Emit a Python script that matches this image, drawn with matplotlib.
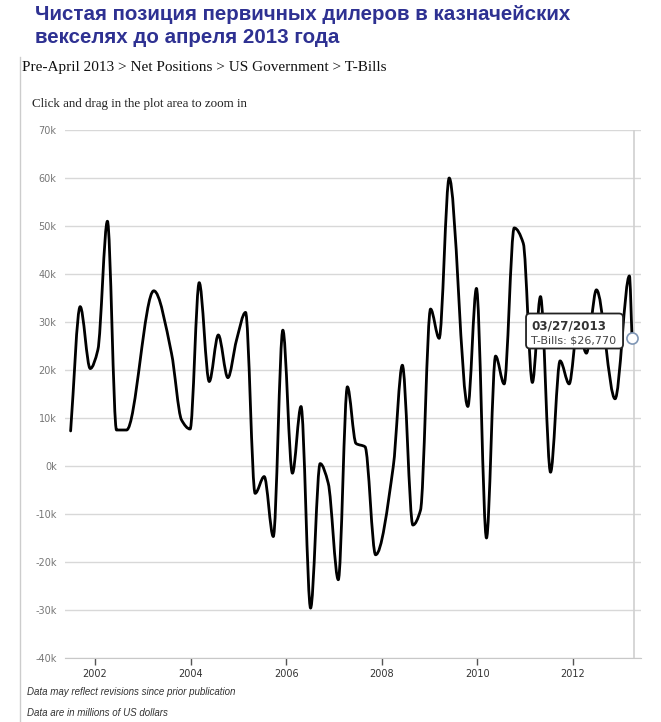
import matplotlib
matplotlib.use("Agg")
import matplotlib.pyplot as plt
import numpy as np
from matplotlib.path import Path
from matplotlib.patches import PathPatch, FancyBboxPatch
from matplotlib.transforms import IdentityTransform

# readings: decimal year, net position in $ thousands of millions (k)
years = [2001.49, 2001.69, 2001.90, 2002.06, 2002.26, 2002.45, 2002.66, 2003.23,
         2003.60, 2003.81, 2003.99, 2004.18, 2004.39, 2004.58, 2004.78, 2004.96,
         2005.15, 2005.35, 2005.54, 2005.73, 2005.93, 2006.13, 2006.31, 2006.51,
         2006.71, 2006.88, 2007.09, 2007.28, 2007.46, 2007.65, 2007.87, 2008.24,
         2008.43, 2008.65, 2008.81, 2009.02, 2009.20, 2009.41, 2009.80, 2009.98,
         2010.19, 2010.38, 2010.56, 2010.77, 2010.96, 2011.15, 2011.32, 2011.53,
         2011.73, 2011.92, 2012.10, 2012.28, 2012.49, 2012.88, 2013.18, 2013.235]
values = [7.3, 33.2, 20.3, 24.2, 51.0, 7.5, 7.5, 36.5,
          23.5, 9.6, 7.7, 38.2, 17.6, 27.3, 18.4, 26.2,
          32.0, -5.7, -2.2, -14.7, 28.3, -1.5, 12.4, -29.6,
          0.5, -3.6, -23.7, 16.5, 4.7, 4.0, -18.5, -0.1,
          21.0, -12.3, -9.2, 32.7, 26.6, 60.0, 12.4, 37.0,
          -15.0, 22.9, 17.1, 49.6, 46.4, 17.4, 35.3, -1.3,
          21.9, 17.1, 29.0, 23.5, 36.7, 14.0, 39.6, 26.77]

y_ticks = [-40, -30, -20, -10, 0, 10, 20, 30, 40, 50, 60, 70]
y_labels = ['-40k', '-30k', '-20k', '-10k', '0k', '10k', '20k', '30k', '40k', '50k', '60k', '70k']
x_ticks = [2002, 2004, 2006, 2008, 2010, 2012]
x_labels = ['2002', '2004', '2006', '2008', '2010', '2012']

title = 'Чистая позиция первичных дилеров в казначейских\nвекселях до апреля 2013 года'
crumb = 'Pre-April 2013 > Net Positions > US Government > T-Bills'
hint = 'Click and drag in the plot area to zoom in'
note1 = 'Data may reflect revisions since prior publication'
note2 = 'Data are in millions of US dollars'
tip_date = '03/27/2013'
tip_value = 'T-Bills: $26,770'

W, H = 661, 722


def fx(px):
    return px / W


def fy(py):
    return 1 - py / H


def smooth_path(x, y):
    # monotone cubic bezier through the points (looks like the web chart's spline)
    x = np.asarray(x, float)
    y = np.asarray(y, float)
    h = np.diff(x)
    d = np.diff(y) / h
    m = np.zeros_like(y)
    m[0], m[-1] = d[0], d[-1]
    for i in range(1, len(y) - 1):
        if d[i - 1] * d[i] > 0:
            w1 = 2 * h[i] + h[i - 1]
            w2 = h[i] + 2 * h[i - 1]
            m[i] = (w1 + w2) / (w1 / d[i - 1] + w2 / d[i])
    verts = [(x[0], y[0])]
    codes = [Path.MOVETO]
    for i in range(len(h)):
        verts += [(x[i] + h[i] / 3, y[i] + m[i] * h[i] / 3),
                  (x[i + 1] - h[i] / 3, y[i + 1] - m[i + 1] * h[i] / 3),
                  (x[i + 1], y[i + 1])]
        codes += [Path.CURVE4] * 3
    return Path(verts, codes)


fig = plt.figure(figsize=(W / 100, H / 100), dpi=100)
fig.patch.set_facecolor('white')

# header texts
fig.text(fx(35), fy(26), title, fontsize=14.8, fontweight='bold', color='#2e3192',
         family='Liberation Sans', va='center', ha='left', linespacing=1.25)
fig.text(fx(22), fy(67), crumb, fontsize=11, color='#111111', family='Liberation Serif',
         va='center', ha='left')
fig.text(fx(32), fy(104), hint, fontsize=9.4, color='#222222', family='Liberation Serif',
         va='center', ha='left')
fig.text(fx(27), fy(692), note1, fontsize=7, color='#333333', style='italic',
         family='Liberation Sans', va='center', ha='left')
fig.text(fx(27), fy(713), note2, fontsize=7, color='#333333', style='italic',
         family='Liberation Sans', va='center', ha='left')

# thin panel border on the left
fig.add_artist(plt.Line2D([fx(20), fx(20)], [fy(57), 0], color='#cccccc', lw=1))

left, right, top, bottom = 65, 641, 130, 658
ax = fig.add_axes([fx(left), fy(bottom), fx(right) - fx(left), fy(top) - fy(bottom)])
ax.set_xlim(2002 + (left - 95) / 47.8, 2002 + (right - 95) / 47.8)
ax.set_ylim(-40, 70)

ax.set_yticks(y_ticks)
ax.set_yticklabels(y_labels)
ax.set_xticks(x_ticks)
ax.set_xticklabels(x_labels)
ax.yaxis.grid(True, color='#d8d8d8', lw=1)
ax.set_axisbelow(True)
for s in ['top', 'right', 'left']:
    ax.spines[s].set_visible(False)
ax.spines['bottom'].set_color('#c8c8c8')
ax.tick_params(axis='y', length=0, pad=6, labelsize=7, labelcolor='#777777')
ax.tick_params(axis='x', length=5, width=1, color='#555555', pad=3, labelsize=7,
               labelcolor='#333333')

ax.add_patch(PathPatch(smooth_path(years, values), fill=False, ec='black', lw=2.0,
                       capstyle='round', joinstyle='round', zorder=3))

# crosshair + hover marker on the last point
ax.axvline(years[-1] + 0.04, color='#d0d0d0', lw=1.2, zorder=2)
ax.plot(years[-1], values[-1], 'o', ms=8, mfc='white', mec='#7f96b5', mew=1.2,
        zorder=5, clip_on=False)

# tooltip box, placed relative to the last point in pixels
px, py = ax.transData.transform((years[-1], values[-1]))
box = FancyBboxPatch((px - 106, py - 11), 97, 35,
                     boxstyle='round,pad=0,rounding_size=4', transform=IdentityTransform(),
                     fc='white', ec='#222222', lw=1.3, zorder=6)
fig.add_artist(box)
fig.text(px - 101, py + 12, tip_date, transform=IdentityTransform(), fontsize=8.6,
         fontweight='bold', color='#333333', va='center', ha='left', zorder=7)
fig.text(px - 101, py - 3, tip_value, transform=IdentityTransform(), fontsize=8,
         color='#444444', va='center', ha='left', zorder=7)

fig.savefig('out.png', dpi=100, facecolor='white')
